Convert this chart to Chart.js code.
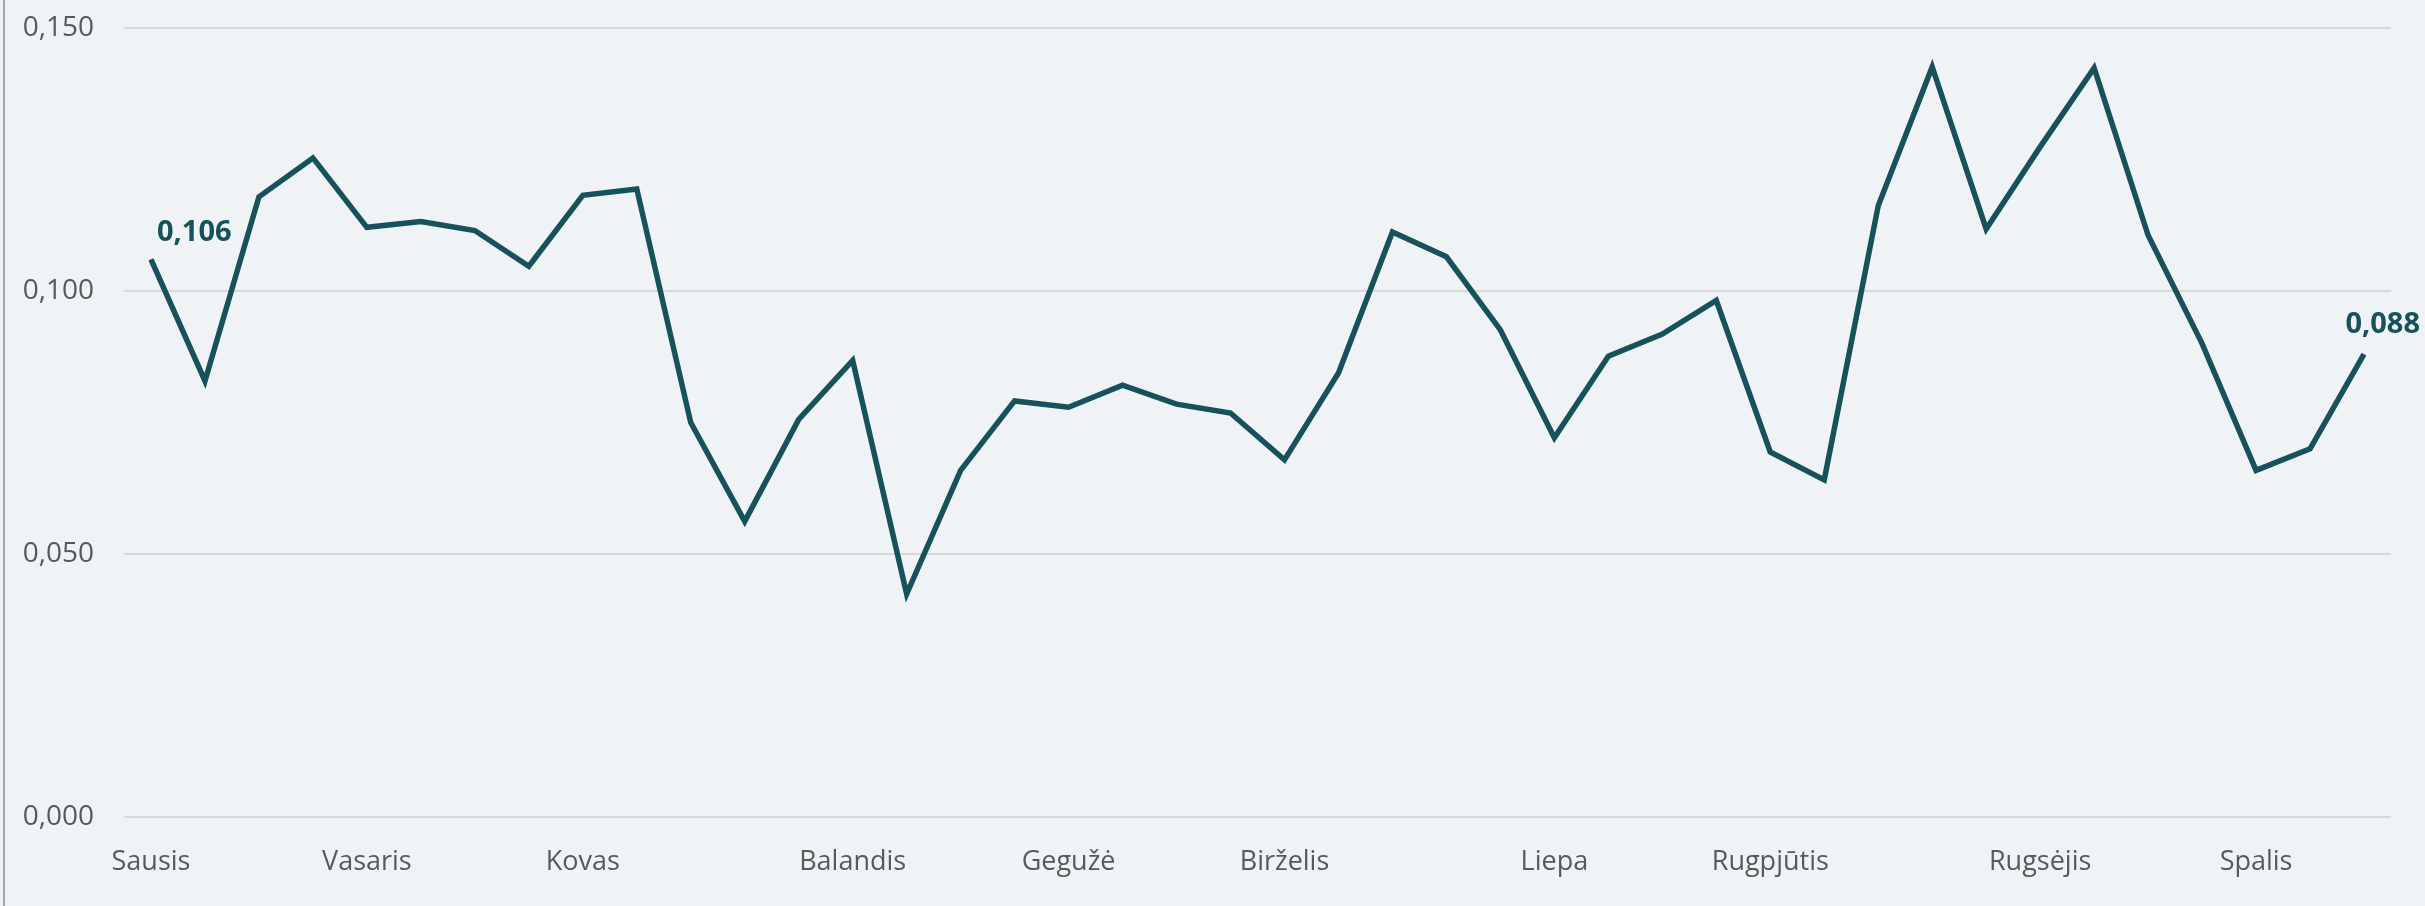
<!DOCTYPE html>
<html>
<head>
<meta charset="utf-8">
<script src="https://cdn.jsdelivr.net/npm/chart.js@4.4.1/dist/chart.umd.min.js"></script>
<style>
  html, body { margin: 0; padding: 0; background: #eff3f6; }
  #wrap { width: 2425px; height: 906px; }
</style>
</head>
<body>
<div id="wrap"><canvas id="lineChart" width="2425" height="906"></canvas></div>
<script>
// weekly values, 42 points
var weekLabels = ["Sausis", "", "", "", "Vasaris", "", "", "", "Kovas", "", "", "", "", "Balandis", "", "", "", "Gegužė", "", "", "", "Birželis", "", "", "", "", "Liepa", "", "", "", "Rugpjūtis", "", "", "", "", "Rugsėjis", "", "", "", "Spalis", "", ""];
var weekValues = [0.106, 0.0829, 0.1179, 0.1253, 0.1121, 0.1132, 0.1115, 0.1047, 0.1182, 0.1194,
                  0.0750, 0.0562, 0.0756, 0.0868, 0.0424, 0.0659, 0.0791, 0.0779, 0.0821, 0.0785,
                  0.0768, 0.0679, 0.0844, 0.1112, 0.1065, 0.0926, 0.0721, 0.0876, 0.0918, 0.0982,
                  0.0694, 0.0641, 0.1162, 0.1426, 0.1118, 0.1274, 0.1424, 0.1106, 0.0900, 0.0659,
                  0.0700, 0.088];
var yTicks = [0, 0.05, 0.10, 0.15];

var lineColor = "#17525a";

function fmt(v) {
    return v.toFixed(3).replace(".", ",");
}

// left border + first/last value labels
var extras = {
    id: "extras",
    beforeDraw: function(chart) {
        var ctx = chart.ctx;
        ctx.save();
        ctx.fillStyle = "#eff3f6";
        ctx.fillRect(0, 0, chart.width, chart.height);
        ctx.strokeStyle = "#a6a6a6";
        ctx.lineWidth = 2;
        ctx.beginPath();
        ctx.moveTo(4, 0);
        ctx.lineTo(4, chart.height);
        ctx.stroke();
        ctx.restore();
    },
    afterDatasetsDraw: function(chart) {
        var ctx = chart.ctx;
        var pts = chart.getDatasetMeta(0).data;
        var last = pts.length - 1;
        ctx.save();
        ctx.font = "bold 29px 'Open Sans'";
        ctx.fillStyle = lineColor;
        ctx.textBaseline = "middle";
        ctx.textAlign = "left";
        ctx.fillText(fmt(weekValues[0]), pts[0].x + 6, pts[0].y - 27);
        ctx.textAlign = "right";
        ctx.fillText(fmt(weekValues[last]), Math.min(pts[last].x + 56, chart.width - 3), pts[last].y - 29);
        ctx.restore();
    }
};

var lineChart = new Chart(document.getElementById("lineChart"), {
    type: "line",
    data: {
        labels: weekLabels,
        datasets: [{
            data: weekValues,
            borderColor: lineColor,
            borderWidth: 5.5,
            pointRadius: 0,
            tension: 0,
            fill: false
        }]
    },
    options: {
        responsive: false,
        animation: false,
        events: [],
        layout: {
            padding: { left: 0, right: 34, top: 28, bottom: 0 }
        },
        plugins: {
            legend: { display: false },
            tooltip: { enabled: false }
        },
        scales: {
            x: {
                offset: true,
                grid: { display: false },
                border: { display: false },
                ticks: {
                    autoSkip: false,
                    maxRotation: 0,
                    padding: 21,
                    color: "#595959",
                    font: { family: "'Open Sans'", size: 27 }
                },
                afterFit: function(scale) { scale.height = 89; }
            },
            y: {
                min: 0,
                max: 0.15,
                afterBuildTicks: function(scale) {
                    scale.ticks = yTicks.map(function(v) { return { value: v }; });
                },
                grid: { color: "#d9d9d9", lineWidth: 2, drawTicks: false },
                border: { display: false },
                ticks: {
                    padding: 30,
                    color: "#595959",
                    font: { family: "'Open Sans'", size: 28 },
                    callback: function(v) { return fmt(v); }
                },
                afterFit: function(scale) {
                    scale.width = 124;
                    scale.paddingTop = 0;
                    scale.paddingBottom = 0;
                }
            }
        }
    },
    plugins: [extras]
});
</script>
</body>
</html>
